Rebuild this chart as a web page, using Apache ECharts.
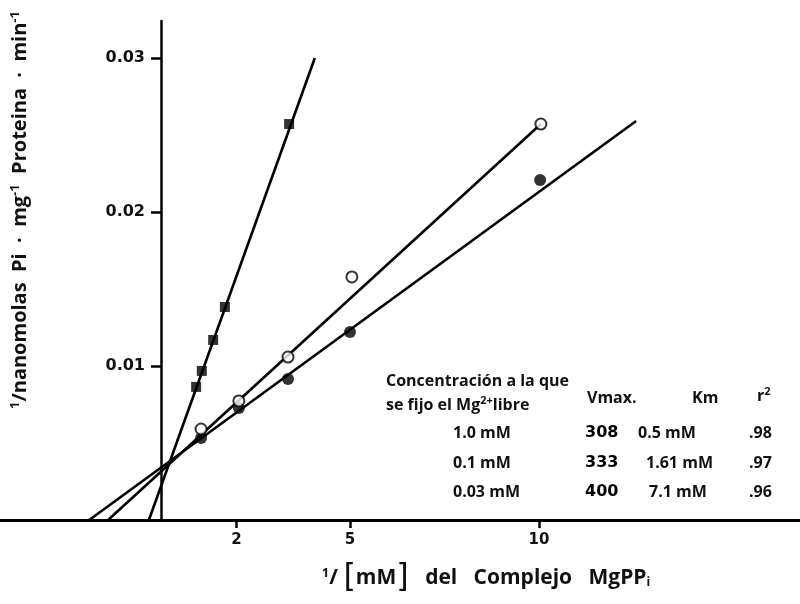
<!DOCTYPE html>
<html>
<head>
<meta charset="utf-8">
<script src="https://cdn.jsdelivr.net/npm/echarts@6/dist/echarts.min.js"></script>
<style>html,body{margin:0;padding:0;background:#fff;}#c{width:800px;height:604px;}</style>
</head>
<body>
<div id="c"></div>
<script>
// ---- data ----
const xTicks = [2, 5, 10];
const yTicks = [0.01, 0.02, 0.03];

// squares (filled) - 0.03 mM
const sqX = [0.93, 1.08, 1.38, 1.69, 3.39];
const sqY = [0.00864, 0.00968, 0.01169, 0.01383, 0.02571];
// open circles - 0.1 mM
const ocX = [1.06, 2.06, 3.36, 5.05, 10.05];
const ocY = [0.00591, 0.00773, 0.01058, 0.01578, 0.02571];
// filled circles - 1.0 mM
const fcX = [1.06, 2.06, 3.36, 5.00, 10.03];
const fcY = [0.00532, 0.00727, 0.00916, 0.01221, 0.02208];

// fitted lines (endpoints)
const sqFitX = [-0.32, 4.07];
const sqFitY = [0, 0.0300];
const ocFitX = [-1.40, 10.05];
const ocFitY = [0, 0.02571];
const fcFitX = [-1.90, 12.57];
const fcFitY = [0, 0.02591];

// table
const tableHeader1 = 'Concentración a la que';
const tableCols = ['Vmax.', 'Km'];
const tableConc = ['1.0 mM', '0.1 mM', '0.03 mM'];
const tableVmax = ['308', '333', '400'];
const tableKm = ['0.5 mM', '1.61 mM', '7.1 mM'];
const tableR2 = ['.98', '.97', '.96'];

const zip = (a, b) => a.map((v, i) => [v, b[i]]);

const FONT = '"Open Sans"';
const NUMFONT = '"DejaVu Sans"';
const chart = echarts.init(document.getElementById('c'), null, {renderer: 'canvas'});

const rowsY = [433, 463, 492];
const graphics = [];
graphics.push({type: 'text', x: 386, y: 381, style: {text: tableHeader1, font: 'bold 16px ' + FONT, fill: '#111', verticalAlign: 'middle'}});
graphics.push({type: 'text', x: 386, y: 405, style: {
  text: 'se fijo el Mg{sup|2+}libre', font: 'bold 16px ' + FONT, fill: '#111', verticalAlign: 'middle',
  rich: {sup: {fontSize: 11, fontWeight: 'bold', fontFamily: 'Open Sans', padding: [0,0,9,0]}}
}});
graphics.push({type: 'text', x: 587, y: 398, style: {text: tableCols[0], font: 'bold 16px ' + FONT, fill: '#111', verticalAlign: 'middle'}});
graphics.push({type: 'text', x: 692, y: 398, style: {text: tableCols[1], font: 'bold 16px ' + FONT, fill: '#111', verticalAlign: 'middle'}});
graphics.push({type: 'text', x: 757, y: 396, style: {
  text: 'r{sup|2}', font: 'bold 16px ' + FONT, fill: '#111', verticalAlign: 'middle',
  rich: {sup: {fontSize: 11, fontWeight: 'bold', fontFamily: 'Open Sans', padding: [0,0,9,0]}}
}});
for (let i = 0; i < 3; i++) {
  const cy = rowsY[i];
  graphics.push({type: 'text', x: 453, y: cy, style: {text: tableConc[i], font: 'bold 16px ' + FONT, fill: '#111', verticalAlign: 'middle'}});
  graphics.push({type: 'text', x: 585, y: cy, style: {text: tableVmax[i], font: 'bold 16px ' + NUMFONT, fill: '#000', verticalAlign: 'middle'}});
  graphics.push({type: 'text', x: [638, 646, 649][i], y: cy, style: {text: tableKm[i], font: 'bold 16px ' + FONT, fill: '#111', verticalAlign: 'middle'}});
  graphics.push({type: 'text', x: 749, y: cy, style: {text: tableR2[i], font: 'bold 16px ' + FONT, fill: '#111', verticalAlign: 'middle'}});
}
// y axis title (rotated)
graphics.push({type: 'text', x: 20, y: 210, rotation: Math.PI / 2, style: {
  text: '{s|1}/nanomolas  Pi  ·  mg{s|-1}  Proteina  ·  min{s|-1}',
  font: 'bold 20px ' + FONT, fill: '#111', align: 'center', verticalAlign: 'middle',
  rich: {s: {fontSize: 13, fontWeight: 'bold', fontFamily: 'Open Sans', padding: [0,0,10,0]}}
}});
// x axis title
graphics.push({type: 'text', x: 486, y: 578, style: {
  text: '{s|1}/ {b|[}mM{b|]}   del   Complejo   MgPP{i|i}',
  font: 'bold 21px ' + FONT, fill: '#111', align: 'center', verticalAlign: 'middle',
  rich: {
    s: {fontSize: 13, fontWeight: 'bold', fontFamily: 'Open Sans', padding: [0,0,10,0]},
    b: {fontSize: 32, fontWeight: 'normal', fontFamily: 'DejaVu Sans'},
    i: {fontSize: 12, fontWeight: 'bold', fontFamily: 'Open Sans', padding: [10,0,0,0]}
  }
}});

const lineStyle = {color: '#000', width: 2.6};
chart.setOption({
  animation: false,
  backgroundColor: '#fff',
  grid: {left: 0, right: 0, top: 21, bottom: 84, containLabel: false, outerBoundsMode: 'none'},
  xAxis: {
    type: 'value', min: -4.259, max: 16.905,
    axisLine: {onZero: false, lineStyle: {color: '#000', width: 3}},
    axisTick: {show: true, length: 8, customValues: xTicks, lineStyle: {color: '#000', width: 2.5}},
    axisLabel: {customValues: xTicks, margin: 13, color: '#111', fontFamily: 'DejaVu Sans', fontWeight: 'bold', fontSize: 15},
    splitLine: {show: false}
  },
  yAxis: {
    type: 'value', min: 0, max: 0.0324, position: 'left', offset: -161,
    axisLine: {show: true, onZero: false, lineStyle: {color: '#000', width: 2.5}},
    axisTick: {show: true, length: 10, customValues: yTicks, lineStyle: {color: '#000', width: 2.5}},
    axisLabel: {customValues: yTicks, margin: 16, color: '#111', fontFamily: 'DejaVu Sans', fontWeight: 'bold', fontSize: 16,
      formatter: v => v.toFixed(2)},
    splitLine: {show: false}
  },
  series: [
    {type: 'line', data: zip(sqFitX, sqFitY), symbol: 'none', lineStyle: lineStyle, z: 2},
    {type: 'line', data: zip(ocFitX, ocFitY), symbol: 'none', lineStyle: lineStyle, z: 2},
    {type: 'line', data: zip(fcFitX, fcFitY), symbol: 'none', lineStyle: lineStyle, z: 2},
    {type: 'scatter', data: zip(sqX, sqY), symbol: 'rect', symbolSize: 10, itemStyle: {color: '#000'}, z: 3},
    {type: 'scatter', data: zip(ocX, ocY), symbol: 'circle', symbolSize: 11, itemStyle: {color: '#fff', borderColor: '#000', borderWidth: 2}, z: 4},
    {type: 'scatter', data: zip(fcX, fcY), symbol: 'circle', symbolSize: 12, itemStyle: {color: '#000'}, z: 3}
  ],
  graphic: graphics
});
</script>
</body>
</html>
